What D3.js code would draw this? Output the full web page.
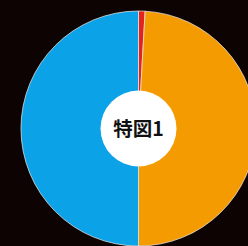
<!DOCTYPE html>
<html><head><meta charset="utf-8">
<script src="https://cdn.jsdelivr.net/npm/d3@7"></script>
<style>html,body{margin:0;padding:0;background:#0e0303;}svg{display:block;}</style>
</head><body>
<script>
const categories = ["赤", "オレンジ", "青"];
const values = [0.9, 49.1, 50.0];
const colors = ["#e3231c", "#f59b02", "#0ca2e8"];
const centerLabel = "特図1";

const W = 248, H = 246;
const cx = 138.5, cy = 128.5, R = 117.5, r0 = 38;

const svg = d3.select("body").append("svg").attr("width", W).attr("height", H);
svg.append("rect").attr("width", W).attr("height", H).attr("fill", "#0e0303");

const pie = d3.pie().sort(null).value(d => d.v);
const arc = d3.arc().innerRadius(0).outerRadius(R);
const data = categories.map((c, i) => ({c, v: values[i], col: colors[i]}));

const g = svg.append("g").attr("transform", `translate(${cx},${cy})`);
g.selectAll("path").data(pie(data)).join("path")
  .attr("d", arc)
  .attr("fill", d => d.data.col)
  .attr("stroke", "#f3efe6")
  .attr("stroke-width", 0.7);

g.append("circle").attr("r", r0).attr("fill", "#ffffff");
g.append("text").text(centerLabel)
  .attr("text-anchor", "middle").attr("dy", "0.38em")
  .attr("font-family", "Noto Sans CJK JP")
  .attr("font-weight", "bold").attr("font-size", 19.5)
  .attr("fill", "#111");
</script>
</body></html>
